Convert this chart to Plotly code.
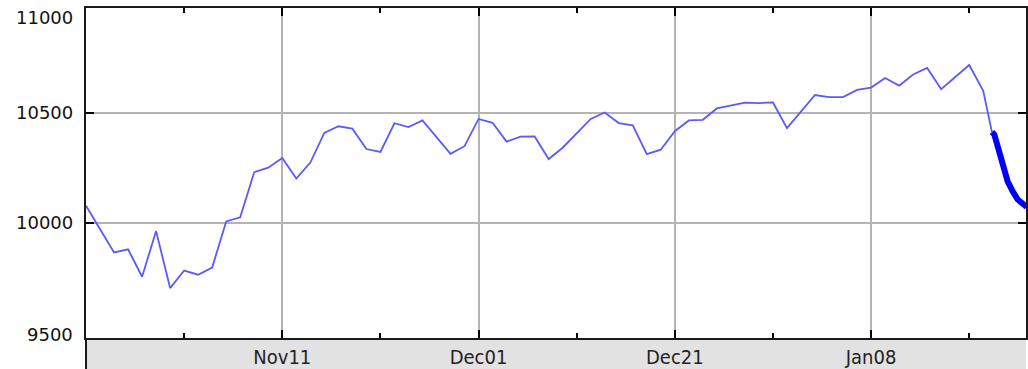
import math
import plotly.graph_objects as go

# Weekday index (0 = Oct22); holidays are absent so the line bridges them
day_index = [0, 1, 2, 3, 4, 5, 6, 7, 8, 9, 10, 11, 12, 13, 14, 15, 16, 17, 18, 19,
             20, 21, 22, 23, 24, 26, 27, 28, 29, 30, 31, 32, 33, 34, 35, 36, 37, 38,
             39, 40, 41, 42, 43, 44, 45, 47, 48, 49, 50, 52, 53, 54, 55, 56, 57, 58,
             59, 60, 61, 63, 64, 64.62]
close_values = [10075, 9972, 9868, 9882, 9762, 9962, 9713, 9789, 9771, 9802, 10005,
                10023, 10226, 10247, 10291, 10197, 10270, 10406, 10437, 10426, 10332,
                10319, 10451, 10433, 10464, 10310, 10345, 10471, 10453, 10366, 10389,
                10390, 10286, 10338, 10405, 10471, 10501, 10452, 10441, 10309, 10329,
                10414, 10464, 10467, 10520, 10547, 10545, 10548, 10428, 10583, 10573,
                10573, 10607, 10618, 10663, 10627, 10680, 10711, 10610, 10725, 10603,
                10410]

# Thick final segment
tail_index = [64.62, 64.79, 65.27, 65.74, 66.10, 66.46, 67.0, 67.1]
tail_values = [10410, 10399, 10290, 10185, 10140, 10103, 10075, 10068]

tick_index = [14, 28, 42, 56]
tick_labels = ["Nov11", "Dec01", "Dec21", "Jan08"]
minor_index = [7, 21, 35, 49, 63]
y_ticks = [9500, 10000, 10500, 11000]
y_labels = ["9500", "10000", "10500", "11000"]

W, H = 1028, 369
ML, MR, MT, MB = 86, 0, 8, 28
plot_h = H - MT - MB

fig = go.Figure()
fig.add_trace(go.Scatter(x=day_index, y=close_values, mode="lines",
                         line=dict(color="#5a5aff", width=1.8), hoverinfo="skip"))
fig.add_trace(go.Scatter(x=tail_index, y=tail_values, mode="lines",
                         line=dict(color="#0000ff", width=6), hoverinfo="skip"))

label_shift = {11000: -9, 10500: 0, 10000: 0, 9500: 4}
for v, t in zip(y_ticks, y_labels):
    fig.add_annotation(x=0, xref="paper", xanchor="right", xshift=-11,
                       y=math.log10(v), yref="y", yanchor="middle",
                       yshift=label_shift[v], text=t, showarrow=False,
                       font=dict(family="DejaVu Sans", size=18, color="#111111"))

band = MB / plot_h
fig.add_shape(type="rect", xref="paper", yref="paper", x0=0, x1=1, y0=-band - 0.01, y1=0,
              fillcolor="#e2e2e2", line=dict(width=0), layer="below")
fig.add_shape(type="line", xref="paper", yref="paper", x0=0, x1=0, y0=-band - 0.01, y1=0,
              line=dict(color="#1a1a1a", width=2))

fig.update_layout(
    width=W, height=H,
    margin=dict(l=ML, r=MR, t=MT, b=MB),
    paper_bgcolor="white", plot_bgcolor="white",
    showlegend=False,
    xaxis=dict(
        range=[0, 67.05], tickvals=tick_index, ticktext=tick_labels,
        ticks="inside", ticklen=8, tickwidth=1.5, tickcolor="#000000",
        showline=True, linecolor="#1a1a1a", linewidth=2, mirror="ticks",
        showgrid=True, gridcolor="#b4b4b4", gridwidth=1.5, zeroline=False,
        tickfont=dict(family="DejaVu Sans Condensed, DejaVu Sans", size=20, color="#222222"),
        ticklabelstandoff=0,
        minor=dict(tickvals=minor_index, ticks="inside", ticklen=5, tickwidth=1.5,
                   tickcolor="#000000", showgrid=False),
    ),
    yaxis=dict(
        type="log", range=[math.log10(9500), math.log10(11000)],
        tickvals=y_ticks, showticklabels=False,
        ticks="inside", ticklen=8, tickwidth=1.5, tickcolor="#000000",
        showline=True, linecolor="#1a1a1a", linewidth=2, mirror="ticks",
        showgrid=True, gridcolor="#b4b4b4", gridwidth=1.5, zeroline=False,
    ),
)

fig.write_html("out.html", config={"displayModeBar": False},
               post_script="document.body.style.margin='0';document.body.style.overflow='hidden';")
